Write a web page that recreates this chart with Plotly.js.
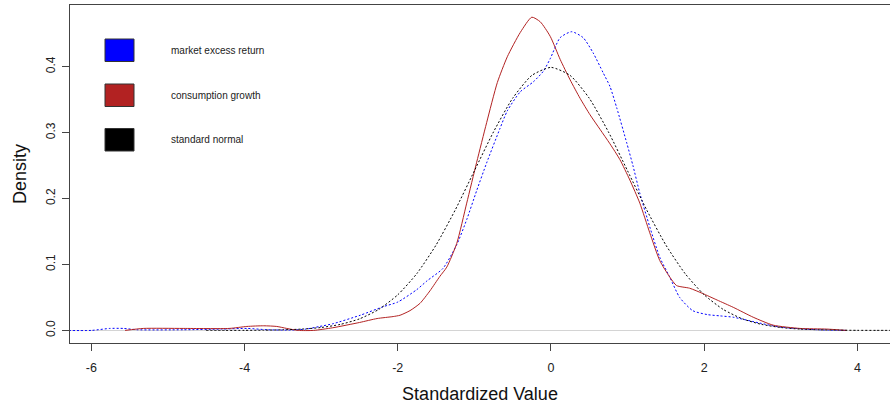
<!DOCTYPE html>
<html>
<head>
<meta charset="utf-8">
<script src="https://cdn.plot.ly/plotly-3.0.1.min.js"></script>
<style>
  html, body { margin: 0; padding: 0; background: #ffffff; }
  #chart { width: 890px; height: 407px; }
</style>
</head>
<body>
<div id="chart"></div>
<script>
// Kernel density estimates of standardized series, against the standard normal.

// market excess return (standardized)
const marketX = [-6.4, -6.0, -5.76, -5.58, -5.4, -4.8, -4.3, -3.97, -3.7, -3.4, -3.2, -3.02, -2.85,
  -2.49, -2.19, -2.0, -1.75, -1.62, -1.41, -1.23, -1.10, -0.97, -0.84, -0.67, -0.57, -0.40,
  -0.23, -0.10, -0.01, 0.12, 0.27, 0.42, 0.55, 0.68, 0.77, 0.86, 0.99, 1.07, 1.16, 1.29, 1.42,
  1.55, 1.68, 1.85, 2.04, 2.21, 2.38, 2.73, 2.99, 3.47, 3.86];
const marketY = [0.000, 0.000, 0.003, 0.003, 0.001, 0.001, 0.002, 0.003, 0.001, 0.0005, 0.002, 0.006, 0.010,
  0.023, 0.036, 0.043, 0.062, 0.075, 0.094, 0.130, 0.168, 0.212, 0.254, 0.305, 0.333, 0.362,
  0.377, 0.393, 0.412, 0.444, 0.453, 0.444, 0.421, 0.391, 0.370, 0.337, 0.284, 0.250, 0.208, 0.157, 0.111,
  0.081, 0.050, 0.030, 0.024, 0.022, 0.020, 0.011, 0.005, 0.001, 0.000];

// consumption growth (standardized)
const consX = [-5.56, -5.32, -4.8, -4.2, -3.97, -3.75, -3.58, -3.45, -3.3, -3.1, -2.85, -2.5, -2.27,
  -2.06, -1.97, -1.84, -1.71, -1.58, -1.45, -1.36, -1.23, -1.10, -0.97, -0.84, -0.70, -0.57, -0.40,
  -0.25, -0.14, -0.01, 0.12, 0.25, 0.38, 0.51, 0.64, 0.77, 0.90, 1.03, 1.16, 1.29, 1.42, 1.55,
  1.64, 1.81, 1.98, 2.17, 2.38, 2.64, 2.90, 3.25, 3.6, 3.86];
const consY = [0.000, 0.003, 0.003, 0.003, 0.006, 0.007, 0.006, 0.003, 0.000, 0.000, 0.004, 0.012, 0.018,
  0.021, 0.023, 0.030, 0.041, 0.060, 0.082, 0.096, 0.132, 0.193, 0.255, 0.315, 0.376, 0.415, 0.452,
  0.475, 0.468, 0.446, 0.411, 0.380, 0.352, 0.327, 0.305, 0.283, 0.259, 0.228, 0.193, 0.148, 0.106, 0.081,
  0.068, 0.064, 0.056, 0.046, 0.035, 0.020, 0.008, 0.003, 0.002, 0.000];

// standard normal reference curve
const normX = [-4.5, -4.25, -4.0, -3.75, -3.5, -3.25, -3.0, -2.75, -2.5, -2.25, -2.0, -1.75, -1.5, -1.25,
  -1.0, -0.75, -0.5, -0.25, 0.0, 0.25, 0.5, 0.75, 1.0, 1.25, 1.5, 1.75, 2.0, 2.25, 2.5, 2.75,
  3.0, 3.25, 3.5, 3.75, 4.0, 4.25, 4.5];
const normY = [0.00002, 0.00005, 0.0001, 0.0004, 0.0009, 0.0020, 0.0044, 0.0091, 0.0175, 0.0317, 0.0540, 0.0863,
  0.1295, 0.1826, 0.2420, 0.3011, 0.3521, 0.3867, 0.3989, 0.3867, 0.3521, 0.3011, 0.2420, 0.1826,
  0.1295, 0.0863, 0.0540, 0.0317, 0.0175, 0.0091, 0.0044, 0.0020, 0.0009, 0.0004, 0.0001, 0.00005, 0.00002];

// legend entries
const legendLabels = ['market excess return', 'consumption growth', 'standard normal'];
const legendColors = ['#0000FF', '#B22222', '#000000'];

// x and y tick labels
const xTicks = [-6, -4, -2, 0, 2, 4];
const xTickText = ['-6', '-4', '-2', '0', '2', '4'];
const yTicks = [0.0, 0.1, 0.2, 0.3, 0.4];
const yTickText = ['0.0', '0.1', '0.2', '0.3', '0.4'];

const W = 890, H = 407;
const M = { l: 70, r: 0, t: 5, b: 64 };
const plotW = W - M.l - M.r, plotH = H - M.t - M.b;
const px = v => (v - M.l) / plotW;          // page x -> paper x
const py = v => (H - M.b - v) / plotH;      // page y -> paper y

const FONT = '"Liberation Sans", Arial, Helvetica, sans-serif';

const traces = [
  {
    x: marketX, y: marketY, type: 'scatter', mode: 'lines', name: legendLabels[0],
    line: { color: legendColors[0], width: 1, dash: '2px,2px', shape: 'spline', smoothing: 0.6 },
    hoverinfo: 'skip'
  },
  {
    x: consX, y: consY, type: 'scatter', mode: 'lines', name: legendLabels[1],
    line: { color: legendColors[1], width: 1, shape: 'spline', smoothing: 0.6 },
    hoverinfo: 'skip'
  },
  {
    x: normX, y: normY, type: 'scatter', mode: 'lines', name: legendLabels[2],
    line: { color: legendColors[2], width: 1, dash: '2px,2px', shape: 'spline', smoothing: 0.6 },
    hoverinfo: 'skip'
  }
];

// legend: filled boxes with labels in the upper-left of the panel
const shapes = [];
const annotations = [];
const boxTops = [39, 84, 128.5];
legendLabels.forEach((lab, i) => {
  const top = boxTops[i], bottom = top + 22.5;
  shapes.push({
    type: 'rect', xref: 'paper', yref: 'paper',
    x0: px(105), x1: px(134), y0: py(bottom), y1: py(top),
    fillcolor: legendColors[i], line: { color: '#333333', width: 1 }
  });
  annotations.push({
    xref: 'paper', yref: 'paper', x: px(169), y: py((top + bottom) / 2),
    xanchor: 'left', yanchor: 'middle', showarrow: false, text: lab,
    font: { family: FONT, size: 10, color: '#222222' }
  });
});

const layout = {
  width: W, height: H,
  margin: M,
  paper_bgcolor: '#ffffff', plot_bgcolor: '#ffffff',
  showlegend: false,
  font: { family: FONT, color: '#222222' },
  xaxis: {
    range: [-6.279, 4.426],
    tickvals: xTicks, ticktext: xTickText,
    ticks: 'outside', ticklen: 7, tickwidth: 1, tickcolor: '#444444',
    showline: true, linecolor: '#444444', linewidth: 1, mirror: true,
    showgrid: false, zeroline: false,
    tickfont: { family: FONT, size: 12.5, color: '#222222' },
    ticklabelstandoff: 6,
    title: { text: 'Standardized Value', font: { family: FONT, size: 18, color: '#111111' }, standoff: 13 },
    automargin: false, fixedrange: true
  },
  yaxis: {
    range: [-0.0191, 0.4935],
    tickvals: yTicks, ticktext: yTickText, tickangle: -90,
    ticks: 'outside', ticklen: 7, tickwidth: 1, tickcolor: '#444444',
    showline: true, linecolor: '#444444', linewidth: 1,
    showgrid: false,
    zeroline: true, zerolinecolor: '#d4d4d4', zerolinewidth: 1.2,
    tickfont: { family: FONT, size: 12, color: '#222222' },
    ticklabelstandoff: 2,
    title: { text: 'Density', font: { family: FONT, size: 18, color: '#111111' }, standoff: 12 },
    automargin: false, fixedrange: true
  },
  shapes: shapes,
  annotations: annotations
};

Plotly.newPlot('chart', traces, layout, { staticPlot: true, displayModeBar: false });
</script>
</body>
</html>
